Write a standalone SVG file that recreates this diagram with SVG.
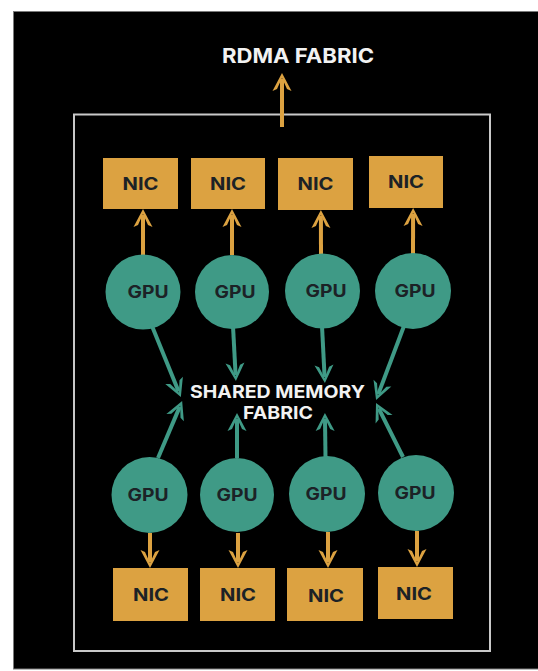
<svg xmlns="http://www.w3.org/2000/svg" width="538" height="671" viewBox="0 0 538 671">
  <style>
    .panel { fill: #000; stroke: #7a7a7a; stroke-width: 1; }
    .frame { fill: none; stroke: #c9c9c9; stroke-width: 2; }
    .nic { fill: #DCA241; }
    .gpu { fill: #3F9A86; }
    .nodetext { font-family: Inter, "Noto Sans", "Liberation Sans", sans-serif; font-weight: 700; font-size: 17px; fill: #1c2226; text-anchor: middle; }
    .label { font-family: Inter, "Noto Sans", "Liberation Sans", sans-serif; font-weight: 700; fill: #f2f2f2; text-anchor: middle; }
    .link-o { stroke: #DCA241; stroke-width: 4; fill: none; }
    .link-g { stroke: #3F9A86; stroke-width: 4; fill: none; }
  </style>
  <defs>
    <marker id="head-o" markerUnits="userSpaceOnUse" viewBox="-20 -11 22 22" refX="-6" refY="0" markerWidth="22" markerHeight="22" orient="auto">
      <path d="M0,0 L-18,-9.5 L-16,-5 L-5,0 L-16,5 L-18,9.5 Z" fill="#DCA241"/>
    </marker>
    <marker id="head-g" markerUnits="userSpaceOnUse" viewBox="-20 -11 22 22" refX="-6" refY="0" markerWidth="22" markerHeight="22" orient="auto">
      <path d="M0,0 L-18,-9.5 L-16,-5 L-5,0 L-16,5 L-18,9.5 Z" fill="#3F9A86"/>
    </marker>
  </defs>

  <rect width="538" height="671" fill="#ffffff"/>
  <rect class="panel" x="13.5" y="11.5" width="530" height="657.5"/>
  <rect class="frame" x="74" y="114.5" width="416" height="536.5"/>

  <!-- connectors: each line ends 6px short of its tip; the marker supplies the head -->
  <g id="connectors">
    <line class="link-o" x1="282" y1="127" x2="282" y2="79" marker-end="url(#head-o)"/>

    <line class="link-o" x1="143" y1="255" x2="143" y2="215" marker-end="url(#head-o)"/>
    <line class="link-o" x1="232" y1="255" x2="232" y2="215" marker-end="url(#head-o)"/>
    <line class="link-o" x1="321" y1="254" x2="320.9" y2="216" marker-end="url(#head-o)"/>
    <line class="link-o" x1="413" y1="254" x2="413.1" y2="214" marker-end="url(#head-o)"/>

    <line class="link-o" x1="150" y1="533" x2="150" y2="562" marker-end="url(#head-o)"/>
    <line class="link-o" x1="238" y1="533" x2="238" y2="562" marker-end="url(#head-o)"/>
    <line class="link-o" x1="328" y1="532" x2="328" y2="562" marker-end="url(#head-o)"/>
    <line class="link-o" x1="417" y1="531" x2="417" y2="561" marker-end="url(#head-o)"/>

    <line class="link-g" x1="152" y1="326" x2="178.6" y2="391.5" marker-end="url(#head-g)"/>
    <line class="link-g" x1="233" y1="326" x2="235.6" y2="375" marker-end="url(#head-g)"/>
    <line class="link-g" x1="322" y1="326" x2="324.6" y2="377" marker-end="url(#head-g)"/>
    <line class="link-g" x1="404" y1="326" x2="378.2" y2="394.4" marker-end="url(#head-g)"/>

    <line class="link-g" x1="158" y1="458" x2="179.8" y2="406.6" marker-end="url(#head-g)"/>
    <line class="link-g" x1="237" y1="458" x2="237" y2="419" marker-end="url(#head-g)"/>
    <line class="link-g" x1="325.5" y1="458" x2="325" y2="419" marker-end="url(#head-g)"/>
    <line class="link-g" x1="403" y1="457" x2="378.7" y2="408.4" marker-end="url(#head-g)"/>
  </g>

  <!-- labels -->
  <text class="label" x="298" y="63" font-size="20" textLength="152" lengthAdjust="spacingAndGlyphs">RDMA FABRIC</text>
  <g id="shared-memory-fabric">
    <text class="label" x="277.5" y="397.5" font-size="17.5" textLength="175" lengthAdjust="spacingAndGlyphs">SHARED MEMORY</text>
    <text class="label" x="278" y="419" font-size="17.5" textLength="70" lengthAdjust="spacingAndGlyphs">FABRIC</text>
  </g>

  <!-- top NICs -->
  <g id="nic-1"><rect class="nic" x="103" y="158" width="75" height="51"/><text class="nodetext" x="140.5" y="189.5" textLength="36" lengthAdjust="spacingAndGlyphs">NIC</text></g>
  <g id="nic-2"><rect class="nic" x="191" y="158" width="74" height="51"/><text class="nodetext" x="228" y="189.5" textLength="36" lengthAdjust="spacingAndGlyphs">NIC</text></g>
  <g id="nic-3"><rect class="nic" x="278" y="158" width="75" height="52"/><text class="nodetext" x="315.5" y="190" textLength="36" lengthAdjust="spacingAndGlyphs">NIC</text></g>
  <g id="nic-4"><rect class="nic" x="369" y="156" width="74" height="52"/><text class="nodetext" x="406" y="188" textLength="36" lengthAdjust="spacingAndGlyphs">NIC</text></g>

  <!-- top GPUs -->
  <g id="gpu-1"><circle class="gpu" cx="143" cy="292" r="37.5"/><text class="nodetext" x="148" y="298" textLength="41" lengthAdjust="spacingAndGlyphs">GPU</text></g>
  <g id="gpu-2"><circle class="gpu" cx="232" cy="292" r="37"/><text class="nodetext" x="235" y="298" textLength="41" lengthAdjust="spacingAndGlyphs">GPU</text></g>
  <g id="gpu-3"><circle class="gpu" cx="322.5" cy="291" r="37.5"/><text class="nodetext" x="326" y="297" textLength="41" lengthAdjust="spacingAndGlyphs">GPU</text></g>
  <g id="gpu-4"><circle class="gpu" cx="413" cy="291" r="38"/><text class="nodetext" x="415" y="297" textLength="41" lengthAdjust="spacingAndGlyphs">GPU</text></g>

  <!-- bottom GPUs -->
  <g id="gpu-5"><circle class="gpu" cx="149.5" cy="495" r="38"/><text class="nodetext" x="148" y="501" textLength="41" lengthAdjust="spacingAndGlyphs">GPU</text></g>
  <g id="gpu-6"><circle class="gpu" cx="237" cy="495" r="37"/><text class="nodetext" x="237" y="501" textLength="41" lengthAdjust="spacingAndGlyphs">GPU</text></g>
  <g id="gpu-7"><circle class="gpu" cx="327" cy="494" r="38"/><text class="nodetext" x="326" y="500" textLength="41" lengthAdjust="spacingAndGlyphs">GPU</text></g>
  <g id="gpu-8"><circle class="gpu" cx="416" cy="493" r="38"/><text class="nodetext" x="415" y="499" textLength="41" lengthAdjust="spacingAndGlyphs">GPU</text></g>

  <!-- bottom NICs -->
  <g id="nic-5"><rect class="nic" x="113" y="568" width="75" height="53"/><text class="nodetext" x="151" y="601" textLength="36" lengthAdjust="spacingAndGlyphs">NIC</text></g>
  <g id="nic-6"><rect class="nic" x="200" y="568" width="75" height="53"/><text class="nodetext" x="238" y="601" textLength="36" lengthAdjust="spacingAndGlyphs">NIC</text></g>
  <g id="nic-7"><rect class="nic" x="287" y="568" width="76" height="53"/><text class="nodetext" x="326" y="602" textLength="36" lengthAdjust="spacingAndGlyphs">NIC</text></g>
  <g id="nic-8"><rect class="nic" x="378" y="567" width="75" height="52"/><text class="nodetext" x="414" y="600" textLength="36" lengthAdjust="spacingAndGlyphs">NIC</text></g>
</svg>
